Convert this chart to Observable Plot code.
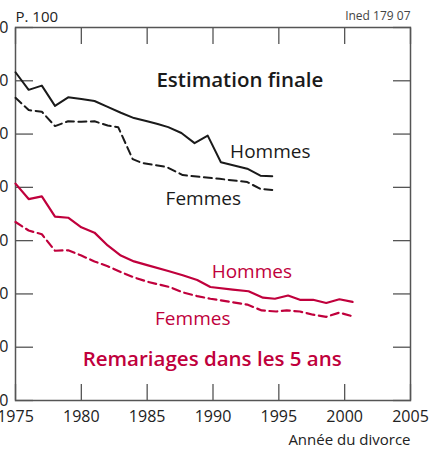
<!DOCTYPE html>
<html>
<head>
<meta charset="utf-8">
<script src="https://cdn.jsdelivr.net/npm/d3@7"></script>
<script src="https://cdn.jsdelivr.net/npm/@observablehq/plot@0.6"></script>
<style>
  html, body { margin: 0; padding: 0; background: #fff; overflow: hidden; }
  #chart svg { display: block; }
</style>
</head>
<body>
<div id="chart"></div>
<script>
// ---- Data (percent, by year of divorce) ----
const xTicks = [1975, 1980, 1985, 1990, 1995, 2000, 2005];
const yTicks = [0, 10, 20, 30, 40, 50, 60, 70];

// Estimation finale — Hommes (black solid)
const finalHommesYears = [1975, 1976, 1977, 1978, 1979, 1980, 1981, 1982, 1983, 1984, 1985, 1985.8, 1986.6, 1987.6, 1988.6, 1989.6, 1990.6, 1992.6, 1993.6, 1994.5];
const finalHommes      = [61.6, 58.3, 59.1, 55.3, 56.9, 56.6, 56.2, 55.1, 54.0, 53.0, 52.4, 51.9, 51.3, 50.2, 48.3, 49.7, 44.7, 43.5, 42.2, 42.1];

// Estimation finale — Femmes (black dashed)
const finalFemmesYears = [1975, 1976, 1977, 1978, 1979, 1980, 1981, 1982, 1982.8, 1983.9, 1984.6, 1986.5, 1987.7, 1990.5, 1992.6, 1993.6, 1994.5];
const finalFemmes      = [56.8, 54.5, 54.2, 51.5, 52.4, 52.3, 52.4, 51.6, 51.3, 45.3, 44.6, 43.8, 42.3, 41.6, 41.0, 39.7, 39.5];

// Remariages dans les 5 ans — Hommes (red solid)
const remarHommesYears = [1975, 1976, 1977, 1978, 1979, 1980, 1981, 1982, 1983, 1984, 1985, 1986.6, 1987.7, 1988.8, 1989.8, 1991.5, 1992.7, 1993.8, 1994.7, 1995.7, 1996.6, 1997.6, 1998.6, 1999.6, 2000.6];
const remarHommes      = [40.7, 37.8, 38.3, 34.5, 34.3, 32.5, 31.5, 29.1, 27.2, 26.1, 25.4, 24.3, 23.5, 22.6, 21.3, 20.8, 20.5, 19.3, 19.1, 19.7, 18.9, 18.9, 18.3, 19.0, 18.5];

// Remariages dans les 5 ans — Femmes (red dashed)
const remarFemmesYears = [1975, 1976, 1977, 1978, 1979, 1980, 1981, 1982, 1983, 1984, 1985, 1986.7, 1987.7, 1988.8, 1989.8, 1992.6, 1993.7, 1994.8, 1995.6, 1996.6, 1997.6, 1998.6, 1999.6, 2000.6];
const remarFemmes      = [33.5, 31.9, 31.2, 28.1, 28.2, 27.2, 26.1, 25.2, 24.1, 23.1, 22.3, 21.3, 20.3, 19.6, 19.1, 18.0, 16.9, 16.7, 16.9, 16.7, 16.1, 15.7, 16.5, 15.8];

// Text labels
const yUnitLabel = "P. 100";
const sourceLabel = "Ined 179 07";
const xAxisLabel = "Année du divorce";
const blackLabels = [
  {text: "Estimation finale", x: 1985.7, y: 58.9, bold: true},
  {text: "Hommes", x: 1991.3, y: 45.6, bold: false},
  {text: "Femmes", x: 1986.4, y: 36.6, bold: false}
];
const redLabels = [
  {text: "Hommes", x: 1989.9, y: 22.9, bold: false},
  {text: "Femmes", x: 1985.6, y: 14.1, bold: false},
  {text: "Remariages dans les 5 ans", x: 1980.1, y: 6.4, bold: true}
];

// ---- Build ----
const zip = (xs, ys) => xs.map((x, i) => ({x, y: ys[i]}));
const BLACK = "#1a1a1a";
const RED = "#c0003c";
const AXIS = "#555";
const FONT = "'Open Sans', 'Noto Sans', sans-serif";

const labelMarks = (labels, color) => [
  Plot.text(labels.filter(d => d.bold), {x: "x", y: "y", text: "text", fill: color, fontSize: 20.5, fontWeight: 600, textAnchor: "start", lineAnchor: "bottom"}),
  Plot.text(labels.filter(d => !d.bold), {x: "x", y: "y", text: "text", fill: color, fontSize: 19, textAnchor: "start", lineAnchor: "bottom"})
];

const chart = Plot.plot({
  width: 431,
  height: 449,
  marginLeft: 15,
  marginRight: 21,
  marginTop: 27,
  marginBottom: 49,
  style: {fontFamily: FONT, background: "white", overflow: "visible", color: "#222"},
  x: {domain: [1975, 2005], ticks: xTicks, tickFormat: d => String(d)},
  y: {domain: [0, 70], ticks: yTicks},
  marks: [
    // tick labels
    Plot.axisX({anchor: "bottom", ticks: xTicks, tickFormat: d => String(d), tickSize: 0, tickPadding: 10, fontSize: 16, fill: "#222", label: null}),
    Plot.axisY({anchor: "left", ticks: yTicks, tickSize: 0, tickPadding: 7, fontSize: 16, fill: "#222", label: null}),
    // inward ticks on all four sides
    Plot.axisX({anchor: "bottom", ticks: xTicks, tickSize: -16, fill: "none", stroke: AXIS, strokeWidth: 1.3, label: null}),
    Plot.axisX({anchor: "top", ticks: xTicks, tickSize: -16, fill: "none", stroke: AXIS, strokeWidth: 1.3, label: null}),
    Plot.axisY({anchor: "left", ticks: yTicks, tickSize: -18, fill: "none", stroke: AXIS, strokeWidth: 1.3, label: null}),
    Plot.axisY({anchor: "right", ticks: yTicks, tickSize: -18, fill: "none", stroke: AXIS, strokeWidth: 1.3, label: null}),
    Plot.frame({stroke: AXIS, strokeWidth: 1.5}),
    // series
    Plot.line(zip(finalHommesYears, finalHommes), {x: "x", y: "y", stroke: BLACK, strokeWidth: 2}),
    Plot.line(zip(finalFemmesYears, finalFemmes), {x: "x", y: "y", stroke: BLACK, strokeWidth: 2, strokeDasharray: "8,4.5"}),
    Plot.line(zip(remarHommesYears, remarHommes), {x: "x", y: "y", stroke: RED, strokeWidth: 2.2}),
    Plot.line(zip(remarFemmesYears, remarFemmes), {x: "x", y: "y", stroke: RED, strokeWidth: 2.2, strokeDasharray: "8,4.5"}),
    // annotations
    ...labelMarks(blackLabels, BLACK),
    ...labelMarks(redLabels, RED),
    Plot.text([yUnitLabel], {frameAnchor: "top-left", text: d => d, textAnchor: "start", lineAnchor: "bottom", dy: -6, fontSize: 15, fill: "#222"}),
    Plot.text([sourceLabel], {frameAnchor: "top-right", text: d => d, textAnchor: "end", lineAnchor: "bottom", dy: -8, fontSize: 12, fill: "#444"}),
    Plot.text([xAxisLabel], {frameAnchor: "bottom-right", text: d => d, textAnchor: "end", lineAnchor: "bottom", dy: 44, fontSize: 15, fill: "#222"})
  ]
});

document.getElementById("chart").appendChild(chart);
</script>
</body>
</html>
